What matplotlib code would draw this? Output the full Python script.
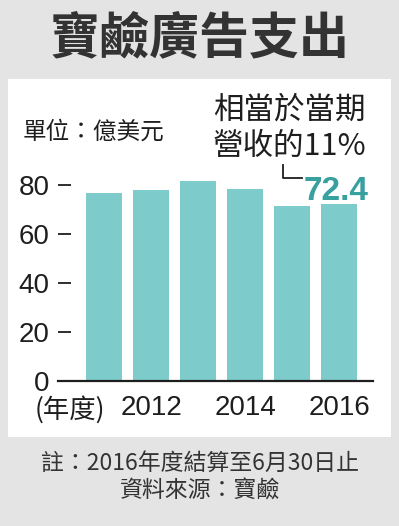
import matplotlib
matplotlib.use("Agg")
import matplotlib.pyplot as plt
from matplotlib.patches import Rectangle

plt.rcParams['font.family'] = ['Noto Sans CJK TC', 'DejaVu Sans']

# data (億美元)
years = [2011, 2012, 2013, 2014, 2015, 2016]
spend = [76.8, 78.1, 81.9, 78.4, 71.5, 72.4]
tick_years = [2012, 2014, 2016]
yticks = [0, 20, 40, 60, 80]

title = '寶鹼廣告支出'
unit = '單位：億美元'
note = ['相當於當期', '營收的11%']
foot = ['註：2016年度結算至6月30日止', '資料來源：寶鹼']

bar_col = '#7dcbca'
hl_col = '#38a09f'
txt_col = '#1e1e1e'

W, H = 399, 526
fig = plt.figure(figsize=(W / 100, H / 100), dpi=100, facecolor='#e4e4e4')

# white panel behind the chart
fig.patches.append(Rectangle((8 / W, (H - 437) / H), 383 / W, 358 / H,
                             transform=fig.transFigure, facecolor='white',
                             edgecolor='none', zorder=-1))

fig.text(0.5, 1 - 39 / H, title, ha='center', va='center', fontsize=36,
         fontweight='heavy', color='#333333')

ax = fig.add_axes([58 / W, (H - 381) / H, 315 / W, 220 / H])
ax.set_facecolor('none')
x = list(range(len(years)))
ax.bar(x, spend, width=0.77, color=bar_col, zorder=2)
ax.set_xlim(-0.98, 5.72)
ax.set_ylim(0, 90)

for s in ['top', 'right', 'left']:
    ax.spines[s].set_visible(False)
ax.spines['bottom'].set_linewidth(1.6)
ax.spines['bottom'].set_color(txt_col)
ax.spines['bottom'].set_zorder(3)

ax.set_yticks(yticks)
ax.set_yticklabels([str(v) for v in yticks], fontfamily='Liberation Sans',
                   fontsize=20, color=txt_col)
ax.tick_params(axis='y', direction='in', length=9, width=1.3, color=txt_col, pad=6)
ax.set_xticks([years.index(y) for y in tick_years])
ax.set_xticklabels([str(y) for y in tick_years], fontfamily='Liberation Sans',
                   fontsize=20, color=txt_col)
ax.tick_params(axis='x', length=0, pad=10)
fig.text(35 / W, 1 - 410 / H, '(年度)', ha='left', va='center', fontsize=19,
         color=txt_col)

# label on last bar
last = len(spend) - 1
ax.text(last + 0.63, spend[last] + 1.6, f'{spend[last]}', ha='right', va='baseline',
        fontfamily='Liberation Sans', fontsize=24, fontweight='bold', color=hl_col)
ax.plot([last - 1.2, last - 1.2, last - 0.8], [88.3, 83.0, 83.0], color=txt_col,
        lw=1.3, clip_on=False)

fig.text(213 / W, 1 - 110 / H, note[0], ha='left', va='center', fontsize=22, color=txt_col)
fig.text(213 / W, 1 - 146 / H, note[1], ha='left', va='center', fontsize=22, color=txt_col)
fig.text(23 / W, 1 - 132 / H, unit, ha='left', va='center', fontsize=17, color=txt_col)

fig.text(0.5, 1 - 463 / H, foot[0], ha='center', va='center', fontsize=16.5, color='#333333')
fig.text(0.5, 1 - 491 / H, foot[1], ha='center', va='center', fontsize=16.5, color='#333333')

fig.savefig('out.png', dpi=100, facecolor=fig.get_facecolor())
